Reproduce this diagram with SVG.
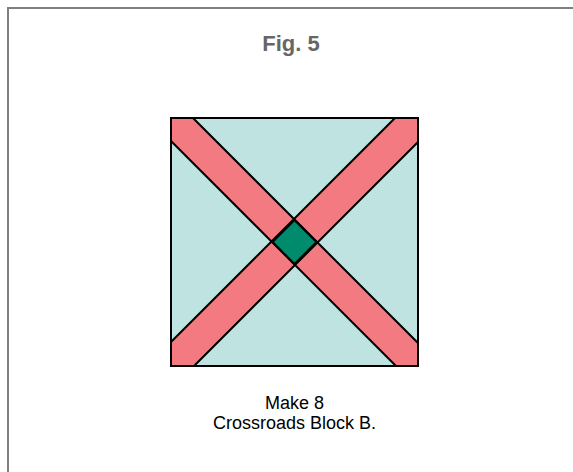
<svg xmlns="http://www.w3.org/2000/svg" width="573" height="472" viewBox="0 0 573 472">
<style>
.frame{fill:none;stroke:#808080;stroke-width:2}
.bg{fill:#bfe3e1}
.band{fill:#f47a82}
.ln{stroke:#000;stroke-width:2;fill:none;stroke-linejoin:miter}
.title{font-family:"Liberation Sans",Arial,sans-serif;font-weight:bold;font-size:22px;fill:#666;text-anchor:middle}
.cap{font-family:"Liberation Sans",Arial,sans-serif;font-size:18px;fill:#000;text-anchor:middle}
</style>
<rect x="0" y="0" width="573" height="472" fill="#fff"/>
<path class="frame" d="M8,472 V8 H573"/>
<text class="title" x="291" y="51">Fig. 5</text>
<g id="block">
<rect class="bg" x="171" y="118" width="247" height="248"/>
<polygon class="band" points="171,118 193,118 418,343 418,366 396,366 171,141"/>
<polygon class="band" points="395,118 418,118 418,142 193,366 171,366 171,343"/>
<polygon id="center" points="294.5,220 316.5,242 294.5,264 272.5,242" fill="#008b6c"/>
<path class="ln" d="M193,118 L418,343 M171,141 L396,366 M395,118 L171,342 M418,142 L194,366"/>
<path class="ln" d="M294.5,220 L316.5,242 L294.5,264 L272.5,242 Z"/>
<rect class="ln" x="171" y="118" width="247" height="248"/>
</g>
<text class="cap" x="294.5" y="409">Make 8</text>
<text class="cap" x="294.5" y="429">Crossroads Block B.</text>
</svg>
